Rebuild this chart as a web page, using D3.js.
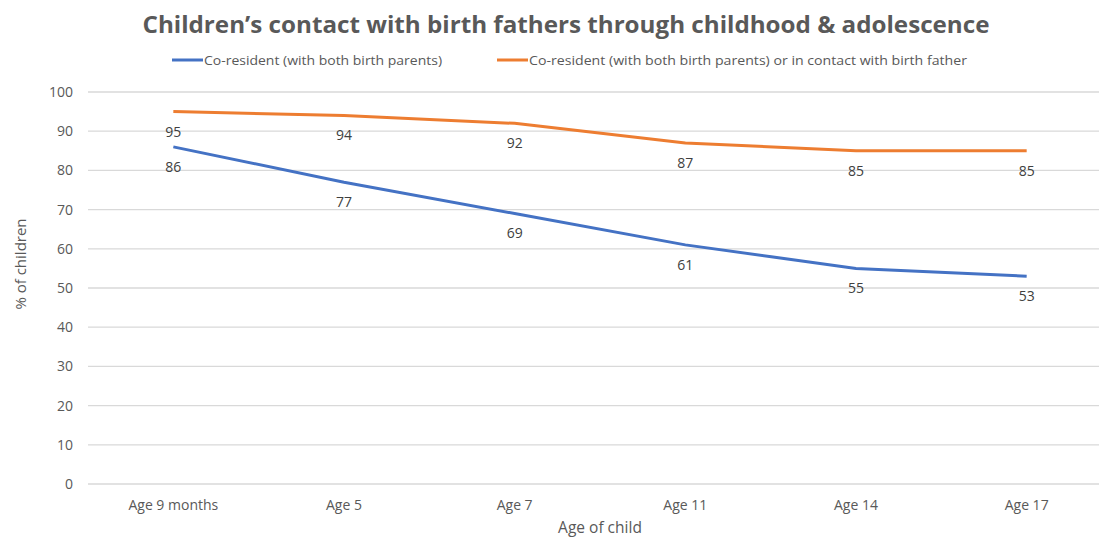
<!DOCTYPE html>
<html lang="en">
<head>
<meta charset="UTF-8">
<title>Children's contact with birth fathers</title>
<script src="https://d3js.org/d3.v7.min.js"></script>
<style>
  body { margin: 0; background: #fff; font-family: 'Open Sans', 'Noto Sans', sans-serif; }
  text { fill: #595959; }
</style>
</head>
<body>
<div id="chart"></div>
<script>
// data
const categories = ["Age 9 months", "Age 5", "Age 7", "Age 11", "Age 14", "Age 17"];
const coResident = [86, 77, 69, 61, 55, 53];
const coResidentOrContact = [95, 94, 92, 87, 85, 85];
const yTicks = [0, 10, 20, 30, 40, 50, 60, 70, 80, 90, 100];
const seriesNames = ["Co-resident (with both birth parents)",
                     "Co-resident (with both birth parents) or in contact with birth father"];
const seriesColors = ["#4472C4", "#ED7D31"];

const width = 1099, height = 539;
const svg = d3.select("#chart").append("svg")
    .attr("width", width)
    .attr("height", height);

// the plot runs a bit past the right edge of the picture
const x = d3.scaleBand().domain(categories).range([88, 1112]);
const y = d3.scaleLinear().domain([0, 100]).range([484, 92]);

// gridlines
svg.append("g").selectAll("line")
    .data(yTicks)
    .join("line")
    .attr("x1", 88).attr("x2", 1112)
    .attr("y1", d => y(d)).attr("y2", d => y(d))
    .attr("stroke", "#d9d9d9")
    .attr("stroke-width", 1.3);

// y tick labels
svg.append("g").selectAll("text")
    .data(yTicks)
    .join("text")
    .attr("x", 73)
    .attr("y", d => y(d))
    .attr("dy", "0.35em")
    .attr("text-anchor", "end")
    .style("font-size", "14px")
    .text(d => d);

// x tick labels
svg.append("g").selectAll("text")
    .data(categories)
    .join("text")
    .attr("x", d => x(d) + x.bandwidth() / 2)
    .attr("y", 510)
    .attr("text-anchor", "middle")
    .style("font-size", "14px")
    .text(d => d);

// axis titles
svg.append("text")
    .attr("x", 600).attr("y", 533)
    .attr("text-anchor", "middle")
    .style("font-size", "15.5px")
    .text("Age of child");

svg.append("text")
    .attr("transform", "translate(26,264) rotate(-90)")
    .attr("text-anchor", "middle")
    .style("font-size", "15px")
    .text("% of children");

// lines
const line = d3.line()
    .x((d, i) => x(categories[i]) + x.bandwidth() / 2)
    .y(d => y(d));

const series = [coResident, coResidentOrContact];
series.forEach((vals, s) => {
    svg.append("path")
        .attr("d", line(vals))
        .attr("fill", "none")
        .attr("stroke", seriesColors[s])
        .attr("stroke-width", 3);

    svg.append("g").selectAll("text")
        .data(vals)
        .join("text")
        .attr("x", (d, i) => x(categories[i]) + x.bandwidth() / 2)
        .attr("y", d => y(d) + 20)
        .attr("dy", "0.35em")
        .attr("text-anchor", "middle")
        .style("font-size", "14px")
        .style("fill", "#404040")
        .text(d => d);
});

// title
svg.append("text")
    .attr("x", 566).attr("y", 33)
    .attr("text-anchor", "middle")
    .attr("textLength", 847)
    .attr("lengthAdjust", "spacingAndGlyphs")
    .style("font-size", "23px")
    .style("font-weight", "bold")
    .text("Children\u2019s contact with birth fathers through childhood & adolescence");

// legend
const legendX = [172, 497];
const legendTextLen = [238, 438];
seriesNames.forEach((name, s) => {
    svg.append("line")
        .attr("x1", legendX[s]).attr("x2", legendX[s] + 31)
        .attr("y1", 60).attr("y2", 60)
        .attr("stroke", seriesColors[s])
        .attr("stroke-width", 3);
    svg.append("text")
        .attr("x", legendX[s] + 32)
        .attr("y", 60)
        .attr("dy", "0.35em")
        .attr("textLength", legendTextLen[s])
        .attr("lengthAdjust", "spacingAndGlyphs")
        .style("font-size", "13px")
        .text(name);
});
</script>
</body>
</html>
